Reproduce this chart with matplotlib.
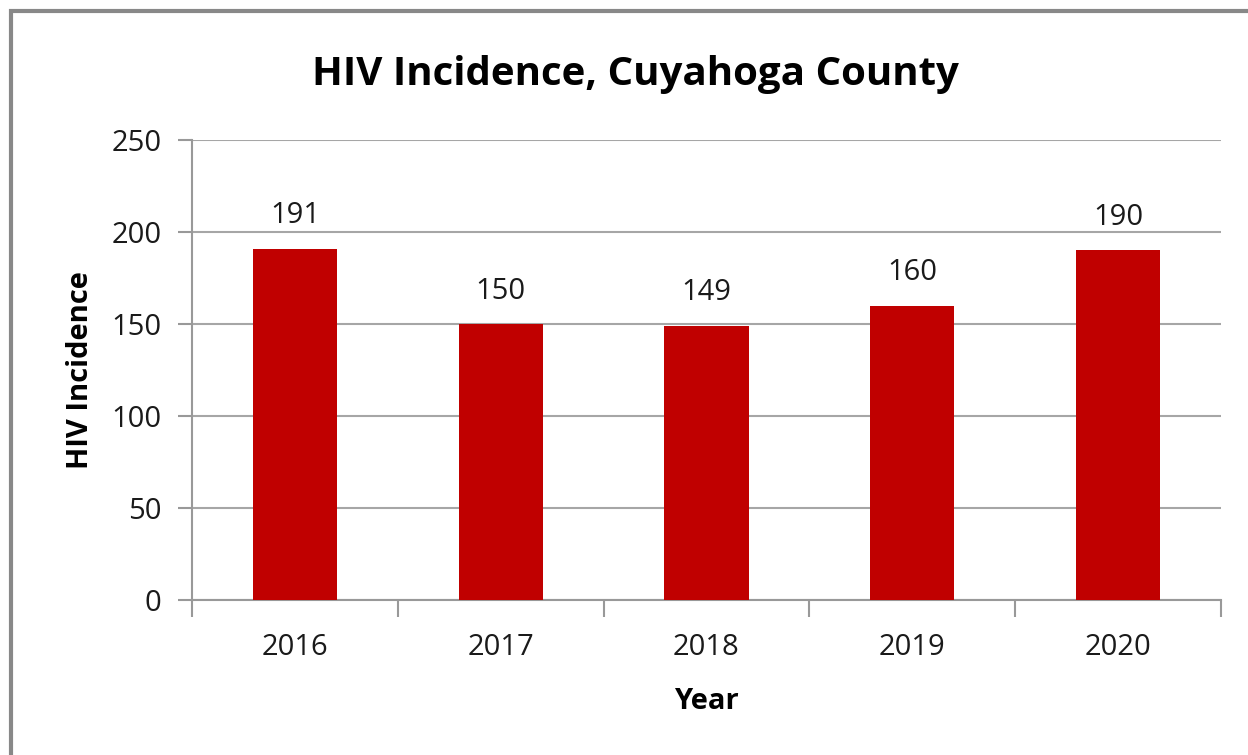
import matplotlib as mpl
mpl.use('Agg')
import matplotlib.pyplot as plt
import numpy as np

years = ['2016', '2017', '2018', '2019', '2020']
incidence = [191, 150, 149, 160, 190]

plt.rcParams['font.family'] = ['Open Sans', 'DejaVu Sans']

fig = plt.figure(figsize=(12.48, 7.55), dpi=100)
ax = fig.add_axes([192 / 1248, 1 - 600 / 755, (1221 - 192) / 1248, 460 / 755])

# grey frame round the chart area (runs off right and bottom)
frame = plt.Rectangle((11 / 1248, -0.1), 1.2, 1 - 11 / 755 + 0.1, transform=fig.transFigure,
                      fill=False, edgecolor='#888888', linewidth=3)
fig.patches.append(frame)

x = np.arange(len(years))
ax.bar(x, incidence, width=0.41, color='#C00000', zorder=3)
for xi, v in zip(x, incidence):
    ax.text(xi, v + 10, str(v), ha='center', va='bottom', fontsize=21, color='#1a1a1a')

ax.set_xlim(-0.5, len(years) - 0.5)
ax.set_ylim(0, 250)
ax.set_yticks(range(0, 251, 50))
ax.set_xticks(x)
ax.set_xticklabels(years)
ax.set_xticks(np.arange(-0.5, len(years), 1), minor=True)
ax.tick_params(axis='x', which='major', length=0, pad=24, labelsize=21, labelcolor='#1a1a1a')
ax.tick_params(axis='x', which='minor', length=12, width=1.5, color='#999999')
ax.tick_params(axis='y', length=10, width=1.5, color='#999999', pad=12, labelsize=21, labelcolor='#1a1a1a')

ax.grid(axis='y', color='#a6a6a6', linewidth=1.5, zorder=0)
for s in ['top', 'right']:
    ax.spines[s].set_visible(False)
for s in ['left', 'bottom']:
    ax.spines[s].set_color('#999999')
    ax.spines[s].set_linewidth(1.5)

ax.set_xlabel('Year', fontsize=21, fontweight='bold', labelpad=18)
ax.set_ylabel('HIV Incidence', fontsize=21, fontweight='bold', labelpad=12)
fig.text(635 / 1248, 1 - 74 / 755, 'HIV Incidence, Cuyahoga County', ha='center', va='center',
         fontsize=29, fontweight='bold')

plt.savefig('out.png')
